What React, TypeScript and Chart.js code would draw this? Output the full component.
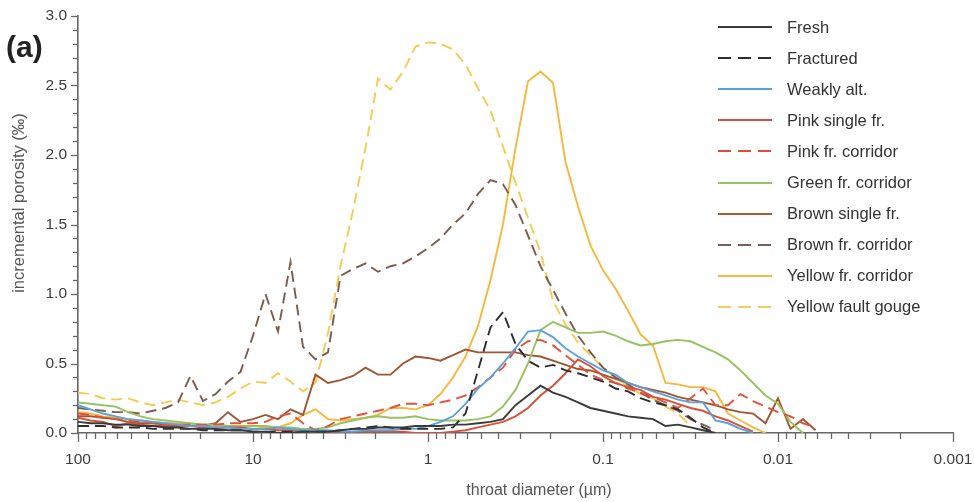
import React, { useEffect, useRef } from "react";
import { Chart, registerables } from "chart.js";

Chart.register(...registerables);

// Throat diameters (µm) of the measurement steps
const DIAMETERS = [
  100, 84.83, 71.97, 61.05, 51.79, 43.94, 37.28, 31.62, 26.83, 22.76, 19.31, 16.38, 13.89, 11.79,
  10, 8.483, 7.197, 6.105, 5.179, 4.394, 3.728, 3.162, 2.683, 2.276, 1.931, 1.638, 1.389, 1.179,
  1, 0.8483, 0.7197, 0.6105, 0.5179, 0.4394, 0.3728, 0.3162, 0.2683, 0.2276, 0.1931, 0.1638, 0.1389, 0.1179,
  0.1, 0.08483, 0.07197, 0.06105, 0.05179, 0.04394, 0.03728, 0.03162, 0.02683, 0.02276, 0.01931, 0.01638, 0.01389, 0.01179,
  0.01, 0.008483, 0.007197, 0.006105, 0.005179,
];

const FRESH = [
  0.08, 0.07, 0.07, 0.06, 0.06, 0.05, 0.05, 0.04, 0.04, 0.03, 0.03, 0.03, 0.02, 0.02,
  0.01, 0.01, 0.0, 0.0, 0.01, 0.01, 0.01, 0.02, 0.03, 0.03, 0.04, 0.04, 0.04, 0.05,
  0.05, 0.05, 0.06, 0.06, 0.07, 0.08, 0.1, 0.2, 0.27, 0.34, 0.29, 0.26, 0.22, 0.18,
  0.16, 0.14, 0.12, 0.11, 0.1, 0.05, 0.06, 0.04, 0.02, 0.0,
];

const FRACTURED = [
  0.05, 0.05, 0.05, 0.04, 0.04, 0.04, 0.03, 0.03, 0.03, 0.03, 0.02, 0.02, 0.02, 0.02,
  0.01, 0.01, 0.01, 0.01, 0.01, 0.01, 0.01, 0.02, 0.03, 0.04, 0.05, 0.04, 0.03, 0.03,
  0.03, 0.03, 0.04, 0.14, 0.45, 0.76, 0.87, 0.64, 0.52, 0.47, 0.49, 0.45, 0.43, 0.4,
  0.37, 0.32, 0.3, 0.25, 0.22, 0.2, 0.17, 0.11, 0.04, 0.0,
];

const WEAKLY_ALT = [
  0.2, 0.17, 0.14, 0.12, 0.1, 0.09, 0.08, 0.07, 0.06, 0.05, 0.05, 0.04, 0.04, 0.03,
  0.03, 0.03, 0.04, 0.03, 0.02, 0.02, 0.02, 0.01, 0.01, 0.02, 0.02, 0.02, 0.03, 0.03,
  0.05, 0.08, 0.12, 0.21, 0.32, 0.4, 0.5, 0.61, 0.73, 0.74, 0.69, 0.61, 0.55, 0.5,
  0.45, 0.42, 0.36, 0.33, 0.3, 0.27, 0.24, 0.22, 0.22, 0.09, 0.07, 0.03, 0.0,
];

const PINK_SINGLE = [
  0.11, 0.09, 0.08, 0.05, 0.07, 0.06, 0.05, 0.05, 0.05, 0.05, 0.04, 0.04, 0.04, 0.04,
  0.03, 0.03, 0.02, 0.02, 0.01, 0.01, 0.01, 0.01, 0.01, 0.01, 0.01, 0.01, 0.01, 0.0,
  0.0, 0.0, 0.01, 0.02, 0.04, 0.06, 0.08, 0.12, 0.18, 0.27, 0.34, 0.43, 0.53, 0.48,
  0.41, 0.36, 0.33, 0.31, 0.26, 0.24, 0.21, 0.18, 0.16, 0.12, 0.09, 0.05, 0.01,
];

const PINK_CORRIDOR = [
  0.14, 0.13, 0.11, 0.1, 0.09, 0.08, 0.07, 0.06, 0.06, 0.06, 0.06, 0.06, 0.07, 0.07,
  0.07, 0.08, 0.12, 0.14, 0.07, 0.02, 0.05, 0.1, 0.12, 0.14, 0.16, 0.18, 0.21, 0.21,
  0.2, 0.22, 0.24, 0.27, 0.33, 0.4, 0.47, 0.6, 0.66, 0.67, 0.63, 0.56, 0.49, 0.42,
  0.38, 0.36, 0.32, 0.29, 0.26, 0.22, 0.18, 0.25, 0.32, 0.2, 0.2, 0.28, 0.23, 0.19,
  0.15, 0.12, 0.07, 0.04,
];

const GREEN_CORRIDOR = [
  0.22, 0.21, 0.2, 0.19, 0.15, 0.12, 0.1, 0.09, 0.08, 0.07, 0.06, 0.06, 0.05, 0.05,
  0.05, 0.05, 0.04, 0.04, 0.03, 0.03, 0.04, 0.07, 0.09, 0.11, 0.12, 0.11, 0.11, 0.12,
  0.1, 0.09, 0.09, 0.09, 0.1, 0.12, 0.19, 0.31, 0.5, 0.74, 0.8, 0.76, 0.72, 0.72,
  0.73, 0.7, 0.66, 0.63, 0.64, 0.66, 0.67, 0.66, 0.62, 0.58, 0.53, 0.45, 0.36, 0.27,
  0.21, 0.08, 0.0,
];

const BROWN_SINGLE = [
  0.12, 0.12, 0.11, 0.1, 0.08, 0.07, 0.07, 0.06, 0.05, 0.05, 0.05, 0.07, 0.15, 0.08,
  0.1, 0.13, 0.1, 0.17, 0.13, 0.42, 0.36, 0.38, 0.41, 0.47, 0.42, 0.42, 0.5, 0.55,
  0.54, 0.52, 0.56, 0.6, 0.58, 0.58, 0.58, 0.58, 0.56, 0.55, 0.52, 0.49, 0.46, 0.45,
  0.42, 0.39, 0.36, 0.33, 0.31, 0.29, 0.26, 0.24, 0.22, 0.2, 0.17, 0.15, 0.14, 0.07,
  0.25, 0.03, 0.1, 0.02,
];

const BROWN_CORRIDOR = [
  0.18, 0.17, 0.16, 0.15, 0.15, 0.14, 0.16, 0.18, 0.22, 0.41, 0.23, 0.28, 0.37, 0.44,
  0.7, 1.0, 0.73, 1.23, 0.62, 0.53, 0.58, 1.13, 1.18, 1.22, 1.16, 1.2, 1.22, 1.27,
  1.33, 1.4, 1.5, 1.58, 1.72, 1.82, 1.79, 1.64, 1.42, 1.2, 1.03, 0.86, 0.7, 0.58,
  0.47, 0.4, 0.35, 0.29, 0.24, 0.2, 0.16, 0.1, 0.06, 0.02,
];

const YELLOW_CORRIDOR = [
  0.15, 0.14, 0.12, 0.11, 0.1, 0.09, 0.08, 0.07, 0.07, 0.06, 0.06, 0.06, 0.05, 0.05,
  0.05, 0.04, 0.04, 0.07, 0.13, 0.17, 0.1, 0.09, 0.1, 0.11, 0.13, 0.18, 0.18, 0.17,
  0.2, 0.28, 0.4, 0.55, 0.77, 1.1, 1.5, 2.05, 2.53, 2.6, 2.52, 1.95, 1.63, 1.35,
  1.17, 1.04, 0.88, 0.71, 0.63, 0.36, 0.35, 0.33, 0.33, 0.3, 0.14, 0.09, 0.04, 0.0,
];

const YELLOW_GOUGE = [
  0.29, 0.28, 0.25, 0.24, 0.25, 0.22, 0.2, 0.22, 0.24, 0.22, 0.2, 0.22, 0.26, 0.32,
  0.37, 0.36, 0.43, 0.37, 0.3, 0.36, 0.72, 1.2, 1.6, 2.05, 2.55, 2.47, 2.6, 2.78,
  2.81, 2.8, 2.76, 2.65, 2.48, 2.32, 2.06, 1.8, 1.55, 1.3, 0.95, 0.78, 0.65, 0.56,
  0.47, 0.4, 0.34, 0.28, 0.25, 0.19, 0.14, 0.05,
];

const SERIES_LABELS = [
  "Fresh",
  "Fractured",
  "Weakly alt.",
  "Pink single fr.",
  "Pink fr. corridor",
  "Green fr. corridor",
  "Brown single fr.",
  "Brown fr. corridor",
  "Yellow fr. corridor",
  "Yellow fault gouge",
];
const SERIES_VALUES = [
  FRESH,
  FRACTURED,
  WEAKLY_ALT,
  PINK_SINGLE,
  PINK_CORRIDOR,
  GREEN_CORRIDOR,
  BROWN_SINGLE,
  BROWN_CORRIDOR,
  YELLOW_CORRIDOR,
  YELLOW_GOUGE,
];

const X_TICKS = [100, 10, 1, 0.1, 0.01, 0.001];
const X_TICK_LABELS = ["100", "10", "1", "0.1", "0.01", "0.001"];
const Y_TICKS = [0, 0.5, 1, 1.5, 2, 2.5, 3];
const Y_TICK_LABELS = ["0.0", "0.5", "1.0", "1.5", "2.0", "2.5", "3.0"];
const X_TITLE = "throat diameter (µm)";
const Y_TITLE = "incremental porosity (‰)";

// styles
const COLORS = [
  "#3a3a3a",
  "#2e2e2e",
  "#5aa2dc",
  "#d8503a",
  "#e4503c",
  "#96c262",
  "#9e5532",
  "#7c5a4c",
  "#f5b83e",
  "#f4cb55",
];
const DASHED = [false, true, false, false, true, false, false, true, false, true];
const LEGEND_COLORS = [
  "#3a3a3a",
  "#2e2e2e",
  "#5aa2dc",
  "#c8553f",
  "#e04a3a",
  "#99c06a",
  "#a0603a",
  "#7a6055",
  "#f5b84a",
  "#f2cf5a",
];
const AXIS_COLOR = "#666666";
const FONT = "'Liberation Sans', Arial, Helvetica, sans-serif";

const tickMarks = {
  id: "tickMarks",
  afterDraw(chart: any) {
    const { ctx, chartArea } = chart;
    const x = chart.scales.x;
    const y = chart.scales.y;
    ctx.save();
    ctx.strokeStyle = AXIS_COLOR;
    ctx.lineWidth = 1.3;
    for (let e = -3; e <= 2; e++) {
      for (let m = 1; m <= 9; m++) {
        const v = m * Math.pow(10, e);
        if (v > 100.0001) continue;
        const px = Math.round(x.getPixelForValue(v)) + 0.5;
        const len = m === 1 ? 9 : 6;
        ctx.beginPath();
        ctx.moveTo(px, chartArea.bottom);
        ctx.lineTo(px, chartArea.bottom + len);
        ctx.stroke();
      }
    }
    for (let k = 0; k <= 30; k++) {
      const py = Math.round(y.getPixelForValue(k / 10)) + 0.5;
      const len = k % 5 === 0 ? 7 : 5;
      ctx.beginPath();
      ctx.moveTo(chartArea.left, py);
      ctx.lineTo(chartArea.left - len, py);
      ctx.stroke();
    }
    ctx.restore();
  },
};

export default function App() {
  const canvasRef = useRef<HTMLCanvasElement | null>(null);

  useEffect(() => {
    if (!canvasRef.current) return;
    Chart.defaults.font.family = FONT;
    const datasets = SERIES_VALUES.map((vals, i) => ({
      label: SERIES_LABELS[i],
      data: vals.map((v, j) => ({ x: DIAMETERS[j], y: v })),
      borderColor: COLORS[i],
      backgroundColor: COLORS[i],
      borderWidth: 1.9,
      borderDash: DASHED[i] ? [11, 6] : [],
      pointRadius: 0,
      tension: 0,
      fill: false,
    }));
    const chart = new Chart(canvasRef.current, {
      type: "line",
      data: { datasets },
      plugins: [tickMarks],
      options: {
        animation: false,
        responsive: true,
        maintainAspectRatio: false,
        layout: { padding: { top: 16, right: 21, left: 0, bottom: 0 } },
        plugins: {
          legend: { display: false },
          tooltip: { enabled: false },
        },
        scales: {
          x: {
            type: "logarithmic",
            reverse: true,
            min: 0.001,
            max: 100,
            afterBuildTicks: (s: any) => {
              s.ticks = X_TICKS.map((v) => ({ value: v }));
            },
            afterFit: (s: any) => {
              s.height = 69;
              s.paddingLeft = 0;
              s.paddingRight = 0;
            },
            grid: { display: false, drawTicks: false },
            border: { display: true, color: AXIS_COLOR, width: 1.6 },
            ticks: {
              autoSkip: false,
              maxRotation: 0,
              padding: 17,
              color: "#3c3c3c",
              font: { size: 15.5 },
              callback: (v: any) => {
                const i = X_TICKS.indexOf(Number(v));
                return i >= 0 ? X_TICK_LABELS[i] : "";
              },
            },
            title: { display: false },
          },
          y: {
            type: "linear",
            min: 0,
            max: 3,
            afterBuildTicks: (s: any) => {
              s.ticks = Y_TICKS.map((v) => ({ value: v }));
            },
            afterFit: (s: any) => {
              s.width = 78;
              s.paddingTop = 0;
              s.paddingBottom = 0;
            },
            grid: { display: false, drawTicks: false },
            border: { display: true, color: AXIS_COLOR, width: 1.6 },
            ticks: {
              padding: 11,
              color: "#3c3c3c",
              font: { size: 15.5 },
              callback: (v: any) => {
                const i = Y_TICKS.indexOf(Number(v));
                return i >= 0 ? Y_TICK_LABELS[i] : "";
              },
            },
            title: { display: false },
          },
        },
      } as any,
    });
    return () => chart.destroy();
  }, []);

  return (
    <div
      style={{
        position: "absolute",
        left: 0,
        top: 0,
        width: 974,
        height: 502,
        background: "#ffffff",
        overflow: "hidden",
        fontFamily: FONT,
      }}
    >
      <canvas ref={canvasRef} />
      <div
        style={{
          position: "absolute",
          left: 6,
          top: 32,
          fontSize: 30,
          lineHeight: "30px",
          fontWeight: "bold",
          color: "#222",
        }}
      >
        (a)
      </div>
      <div
        style={{
          position: "absolute",
          left: 18,
          top: 203,
          transform: "translate(-50%, -50%) rotate(-90deg)",
          whiteSpace: "nowrap",
          fontSize: 16.5,
          lineHeight: "18px",
          color: "#555",
        }}
      >
        {Y_TITLE}
      </div>
      <div
        style={{
          position: "absolute",
          left: 539,
          top: 490,
          transform: "translate(-50%, -50%)",
          whiteSpace: "nowrap",
          fontSize: 16,
          lineHeight: "18px",
          color: "#555",
        }}
      >
        {X_TITLE}
      </div>
      {SERIES_LABELS.map((label, i) => (
        <div
          key={label}
          style={{
            position: "absolute",
            left: 718,
            top: 27 + i * 31.1 - 10,
            height: 20,
            display: "flex",
            alignItems: "center",
            whiteSpace: "nowrap",
          }}
        >
          <svg width={54} height={6} style={{ display: "block" }}>
            <line
              x1={0}
              y1={3}
              x2={54}
              y2={3}
              stroke={LEGEND_COLORS[i]}
              strokeWidth={2.2}
              strokeDasharray={DASHED[i] ? "13 7" : undefined}
            />
          </svg>
          <span style={{ marginLeft: 15, fontSize: 16.5, color: "#333" }}>{label}</span>
        </div>
      ))}
    </div>
  );
}
